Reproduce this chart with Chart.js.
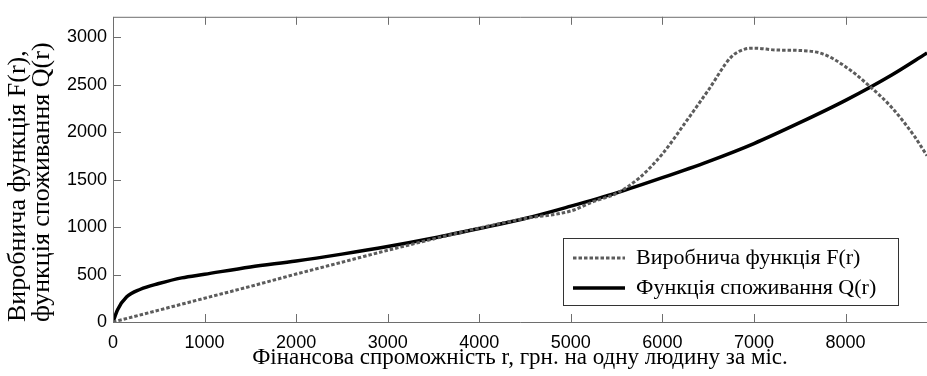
<!DOCTYPE html>
<html>
<head>
<meta charset="utf-8">
<script src="https://cdn.jsdelivr.net/npm/chart.js@4.4.1/dist/chart.umd.min.js"></script>
<style>
  html, body { margin: 0; padding: 0; background: #fff; }
  #wrap { width: 927px; height: 376px; position: relative; }
</style>
</head>
<body>
<div id="wrap"><canvas id="chart"></canvas></div>
<script>
// --- Дані ---
const rF = [0, 500, 1000, 1500, 2000, 2500, 3000, 3500, 4000, 4500, 5000, 5250, 5500, 5750, 6000, 6250, 6500, 6750, 6900, 7000, 7250, 7500, 7750, 8000, 8250, 8500, 8750, 8890];
const valuesF = [0, 125, 250, 375, 505, 630, 755, 875, 990, 1090, 1170, 1270, 1355, 1520, 1770, 2100, 2440, 2790, 2875, 2885, 2865, 2860, 2825, 2690, 2495, 2265, 1960, 1752];

const rQ = [0, 50, 150, 300, 500, 750, 1000, 1500, 2000, 2500, 3000, 3500, 4000, 4500, 5000, 5500, 6000, 6500, 7000, 7500, 8000, 8500, 8890];
const valuesQ = [0, 130, 265, 345, 405, 465, 503, 580, 642, 715, 795, 885, 985, 1090, 1220, 1360, 1520, 1690, 1880, 2100, 2335, 2600, 2835];

const xTicks = [0, 1000, 2000, 3000, 4000, 5000, 6000, 7000, 8000];
const yTicks = [0, 500, 1000, 1500, 2000, 2500, 3000];

const labelF = 'Виробнича функція F(r)';
const labelQ = 'Функція споживання Q(r)';
const xTitle = 'Фінансова спроможність r, грн. на одну людину за міс.';
const yTitle = ['Виробнича функція F(r),', 'функція споживання Q(r)'];

const toPoints = (xs, ys) => xs.map((x, i) => ({ x: x, y: ys[i] }));

// --- Рамка з внутрішніми рисками (як у MATLAB) ---
const framePlugin = {
    id: 'frame',
    afterDraw(chart) {
        const { ctx, chartArea: a, scales } = chart;
        const len = 8;
        ctx.save();
        ctx.strokeStyle = '#6e6e6e';
        ctx.lineWidth = 1;
        ctx.beginPath();
        ctx.moveTo(a.right + 1, a.top + 0.5);
        ctx.lineTo(a.left + 0.5, a.top + 0.5);
        ctx.lineTo(a.left + 0.5, a.bottom + 0.5);
        ctx.lineTo(a.right + 1, a.bottom + 0.5);
        xTicks.forEach(v => {
            const px = Math.round(scales.x.getPixelForValue(v)) + 0.5;
            ctx.moveTo(px, a.bottom);
            ctx.lineTo(px, a.bottom - len);
            ctx.moveTo(px, a.top);
            ctx.lineTo(px, a.top + len);
        });
        yTicks.forEach(v => {
            const py = Math.round(scales.y.getPixelForValue(v)) + 0.5;
            ctx.moveTo(a.left, py);
            ctx.lineTo(a.left + len, py);
        });
        ctx.stroke();

        // рамка легенди
        const lg = chart.legend;
        ctx.strokeStyle = '#333';
        ctx.strokeRect(lg.left - 1.5, lg.top - 0.5, 335, 67);
        ctx.restore();
    }
};

// --- Легенда всередині області графіка, справа знизу ---
const legendPlace = {
    id: 'legendPlace',
    afterLayout(chart) {
        const lg = chart.legend;
        const w = lg.width, h = lg.height;
        lg.left = 565; lg.top = 239;
        lg.right = lg.left + w; lg.bottom = lg.top + h;
    }
};

const ctx = document.getElementById('chart').getContext('2d');
new Chart(ctx, {
    type: 'line',
    data: {
        datasets: [
            {
                label: labelF,
                data: toPoints(rF, valuesF),
                borderColor: '#5c5c5c',
                borderWidth: 3,
                borderDash: [3.5, 2],
                pointRadius: 0,
                cubicInterpolationMode: 'monotone',
                fill: false
            },
            {
                label: labelQ,
                data: toPoints(rQ, valuesQ),
                borderColor: '#000',
                borderWidth: 3.5,
                pointRadius: 0,
                cubicInterpolationMode: 'monotone',
                fill: false
            }
        ]
    },
    options: {
        responsive: true,
        maintainAspectRatio: false,
        animation: false,
        layout: { padding: { top: 13, right: 0, bottom: 0, left: 0 } },
        scales: {
            x: {
                type: 'linear',
                min: 0,
                max: 8890,
                grid: { display: false, drawTicks: false },
                border: { display: false },
                afterBuildTicks(scale) { scale.ticks = xTicks.map(v => ({ value: v })); },
                ticks: {
                    padding: 10,
                    color: '#000',
                    font: { family: 'Liberation Sans', size: 18 },
                    callback: v => String(v)
                },
                title: {
                    display: true,
                    text: xTitle,
                    color: '#000',
                    padding: { top: 0, bottom: 4 },
                    font: { family: 'Liberation Serif', size: 23, lineHeight: 1.2 }
                },
                afterFit(scale) { scale.height = 54; }
            },
            y: {
                type: 'linear',
                min: 0,
                max: 3215,
                grid: { display: false, drawTicks: false },
                border: { display: false },
                afterBuildTicks(scale) { scale.ticks = yTicks.map(v => ({ value: v })); },
                ticks: {
                    padding: 6,
                    color: '#000',
                    font: { family: 'Liberation Sans', size: 18 },
                    callback: v => String(v)
                },
                title: {
                    display: true,
                    text: yTitle,
                    align: 'start',
                    color: '#000',
                    padding: { top: 6, bottom: 0 },
                    font: { family: 'Liberation Serif', size: 26, lineHeight: 0.92 }
                },
                afterFit(scale) { scale.width = 113; }
            }
        },
        plugins: {
            legend: {
                position: 'chartArea',
                align: 'start',
                labels: {
                    usePointStyle: true,
                    pointStyle: 'line',
                    pointStyleWidth: 52,
                    padding: 8,
                    color: '#000',
                    font: { family: 'Liberation Serif', size: 22 },
                    // штрих у легенді береться з самої лінії
                    generateLabels(chart) {
                        const items = Chart.defaults.plugins.legend.labels.generateLabels(chart);
                        items.forEach(item => {
                            const ds = chart.data.datasets[item.datasetIndex];
                            item.lineDash = ds.borderDash || [];
                            item.lineWidth = ds.borderWidth;
                            item.strokeStyle = ds.borderColor;
                        });
                        return items;
                    }
                }
            },
            tooltip: { enabled: false }
        }
    },
    plugins: [legendPlace, framePlugin]
});
</script>
</body>
</html>
